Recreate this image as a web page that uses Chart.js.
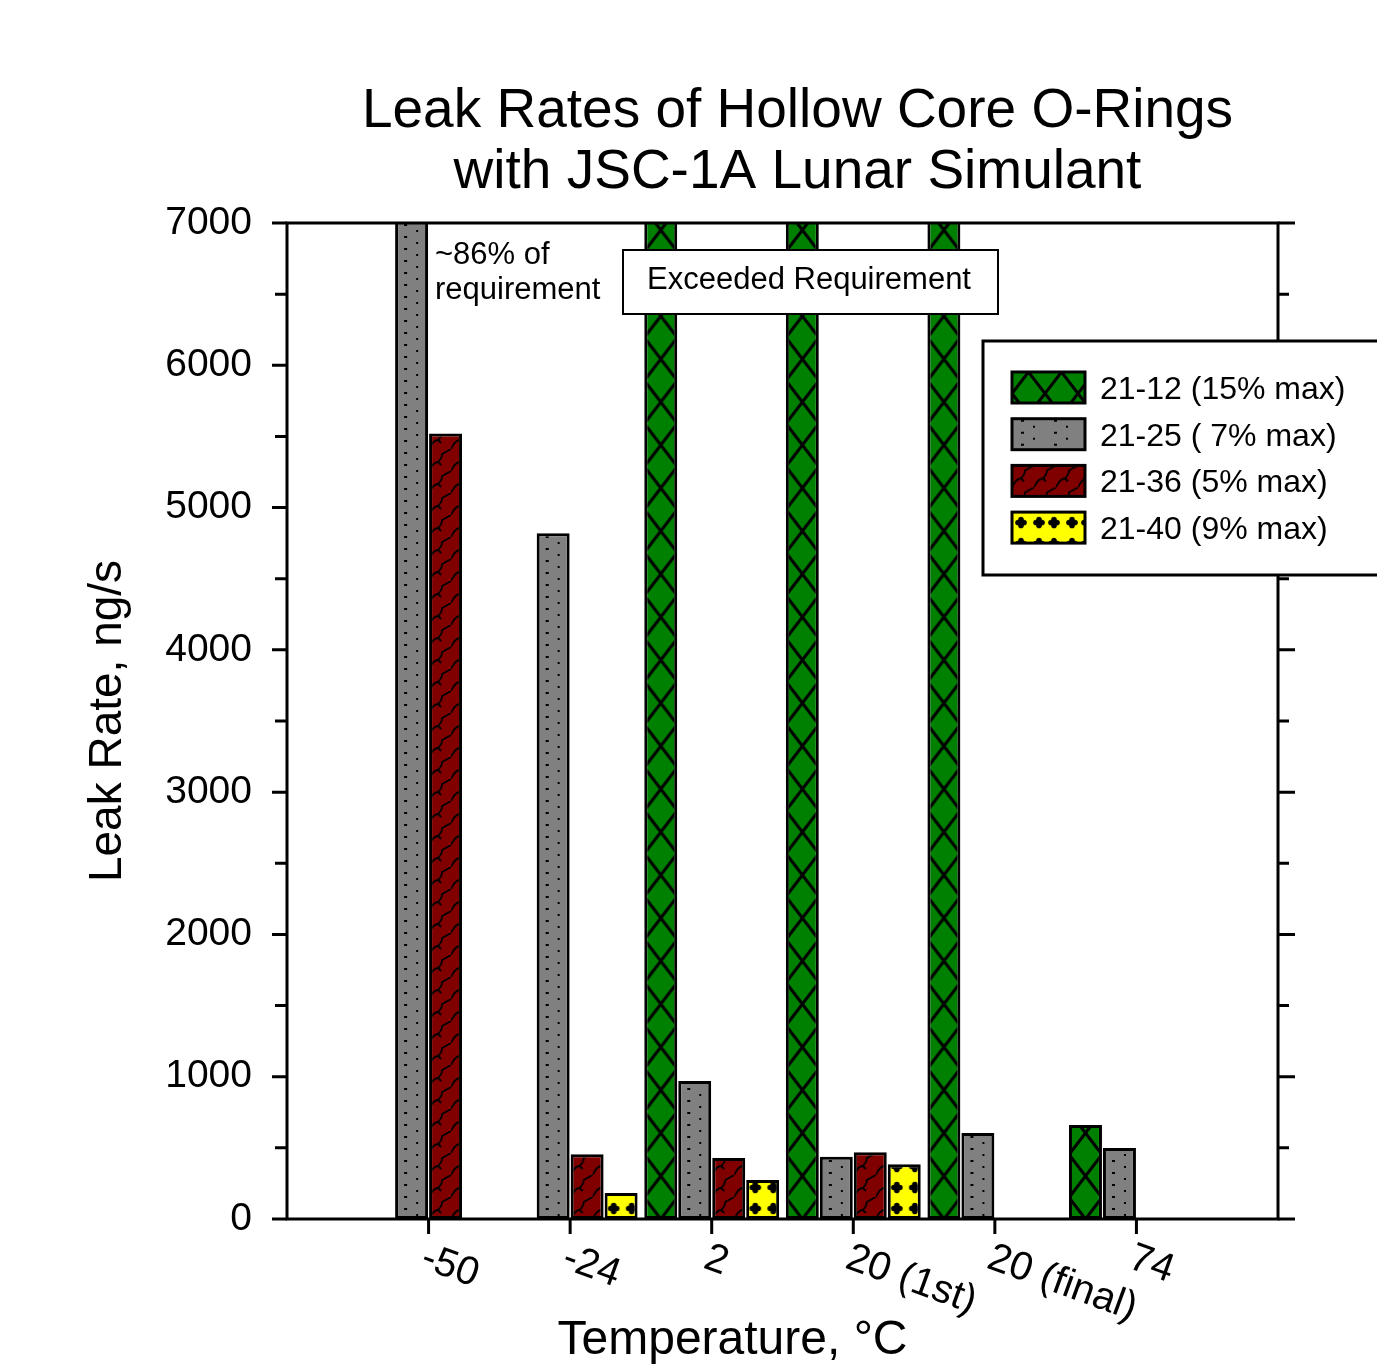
<!DOCTYPE html>
<html lang="en">
<head>
<meta charset="UTF-8">
<title>Leak Rates of Hollow Core O-Rings</title>
<script src="https://cdn.jsdelivr.net/npm/chart.js"></script>
<style>
    body { margin: 0; background: #fff; }
    #wrap { width: 1377px; height: 1368px; }
</style>
</head>
<body>
<div id="wrap"><canvas id="leakChart" width="1377" height="1368"></canvas></div>
<script>
// categories - the blank ones pad the axis out to the frame edges
const temps = ['', '-50', '-24', '2', '20 (1st)', '20 (final)', '74', ''];
const seriesNames = ['21-12 (15% max)', '21-25 ( 7% max)', '21-36 (5% max)', '21-40 (9% max)'];

// leak rate, ng/s (7500 = off the top of the axis)
const o2112 = [null, null, null, 7500, 7500, 7500, 660, null];
const o2125 = [null, 7500, 4820, 970, 438, 604, 499, null];
const o2136 = [null, 5520, 455, 428, 469, null, null, null];
const o2140 = [null, null, 183, 274, 384, null, null, null];

const yTicks = [0, 1000, 2000, 3000, 4000, 5000, 6000, 7000];
const yMinor = [500, 1500, 2500, 3500, 4500, 5500, 6500];

const FONT = '"Liberation Sans", Arial, sans-serif';
Chart.defaults.font.family = FONT;
Chart.defaults.color = '#000';

const canvas = document.getElementById('leakChart');
const ctx = canvas.getContext('2d');

// hatch tiles, one per series
function tile(w, h, bg, draw) {
    const c = document.createElement('canvas');
    c.width = w; c.height = h;
    const g = c.getContext('2d');
    g.fillStyle = bg;
    g.fillRect(0, 0, w, h);
    g.fillStyle = '#000';
    g.strokeStyle = '#000';
    draw(g, w, h);
    return c;
}
function clover(g, x, y) {
    [[-3, 0], [3, 0], [0, -3], [0, 3]].forEach(([dx, dy]) => {
        g.beginPath();
        g.arc(x + dx, y + dy, 2.8, 0, Math.PI * 2);
        g.fill();
    });
    g.fillRect(x - 2, y - 2, 4, 4);
}
const tiles = [
    tile(33, 43, '#008000', (g, w, h) => {
        g.lineWidth = 3;
        g.beginPath();
        g.moveTo(w / 2, 0); g.lineTo(w, h / 2); g.lineTo(w / 2, h); g.lineTo(0, h / 2);
        g.closePath();
        g.stroke();
    }),
    tile(33, 12, '#808080', (g) => {
        g.fillRect(9, 1, 3, 2);
        g.fillRect(21, 7, 2, 2);
    }),
    tile(22, 22, '#800000', (g, w, h) => {
        g.lineWidth = 1.8;
        g.beginPath();
        g.moveTo(0, h);
        g.quadraticCurveTo(4, 13, 9, 13);
        g.quadraticCurveTo(13, 9, 13, 5);
        g.lineTo(w, 0);
        g.moveTo(9, 13); g.lineTo(12, 16);
        g.stroke();
    }),
    tile(33, 21, '#ffff00', (g) => {
        clover(g, 9, 10.5);
        clover(g, 27, 10.5);
    })
];
const fills = [o2112, o2125, o2136, o2140].map((vals, i) => vals.map(() => ctx.createPattern(tiles[i], 'repeat')));
const legendFills = tiles.map(t => ctx.createPattern(t, 'repeat'));

const sigmaPlot = {
    id: 'sigmaPlot',
    // line each bar's hatch up with the bar's own left edge
    beforeDatasetsDraw(chart) {
        const bottom = chart.chartArea.bottom;
        chart.data.datasets.forEach((ds, i) => {
            chart.getDatasetMeta(i).data.forEach((bar, j) => {
                const x0 = isFinite(bar.x) ? bar.x - bar.width / 2 : 0;
                ds.backgroundColor[j].setTransform(new DOMMatrix().translate(x0, bottom));
            });
        });
    },
    afterDraw(chart) {
        const c = chart.ctx;
        const { left, right, top, bottom } = chart.chartArea;
        const xs = chart.scales.x, ys = chart.scales.y;
        c.save();
        c.strokeStyle = '#000';
        c.fillStyle = '#000';

        // frame + ticks
        c.lineWidth = 3;
        c.strokeRect(left, top, right - left, bottom - top);
        c.beginPath();
        yTicks.forEach(v => {
            const py = ys.getPixelForValue(v);
            c.moveTo(left - 15, py); c.lineTo(left, py);
            c.moveTo(right, py); c.lineTo(right + 17, py);
        });
        yMinor.forEach(v => {
            const py = ys.getPixelForValue(v);
            c.moveTo(left - 12, py); c.lineTo(left, py);
            c.moveTo(right, py); c.lineTo(right + 11, py);
        });
        temps.forEach((t, i) => {
            if (!t) return;
            const px = xs.getPixelForValue(i);
            c.moveTo(px, bottom); c.lineTo(px, bottom + 15);
        });
        c.stroke();

        // slanted category labels
        c.font = '40px ' + FONT;
        c.textAlign = 'left';
        c.textBaseline = 'top';
        temps.forEach((t, i) => {
            if (!t) return;
            c.save();
            c.translate(xs.getPixelForValue(i) + 1, bottom + 19);
            c.rotate(20 * Math.PI / 180);
            c.fillText(t, 0, 0);
            c.restore();
        });

        // axis title (sits left of centre in the original)
        c.textAlign = 'center';
        c.textBaseline = 'alphabetic';
        c.font = '48px ' + FONT;
        c.fillText('Temperature, °C', (left + right) / 2 - 50, bottom + 135);

        // title
        c.font = '55px ' + FONT;
        const cx = (left + right) / 2 + 15;
        c.fillText('Leak Rates of Hollow Core O-Rings', cx, top - 96);
        c.fillText('with JSC-1A Lunar Simulant', cx, top - 35);

        // notes
        c.font = '31px ' + FONT;
        c.textAlign = 'left';
        c.fillText('~86% of', left + 148, top + 41);
        c.fillText('requirement', left + 148, top + 76);

        c.lineWidth = 2;
        c.fillStyle = '#fff';
        c.fillRect(left + 336, top + 27, 375, 64);
        c.strokeRect(left + 336, top + 27, 375, 64);
        c.fillStyle = '#000';
        c.textAlign = 'center';
        c.fillText('Exceeded Requirement', left + 336 + 186, top + 66);

        // legend
        const lx = right - 295, ly = top + 118;
        c.lineWidth = 3;
        c.fillStyle = '#fff';
        c.fillRect(lx, ly, 420, 234);
        c.strokeRect(lx, ly, 420, 234);
        c.textAlign = 'left';
        c.font = '32px ' + FONT;
        seriesNames.forEach((name, i) => {
            const sy = ly + 31 + i * 46.7;
            legendFills[i].setTransform(new DOMMatrix().translate(lx + 29, sy));
            c.fillStyle = legendFills[i];
            c.fillRect(lx + 29, sy, 73, 31);
            c.lineWidth = 3;
            c.strokeRect(lx + 29, sy, 73, 31);
            c.fillStyle = '#000';
            c.fillText(name, lx + 117, sy + 27);
        });
        c.restore();
    }
};

const borderBlack = { borderColor: '#000', borderWidth: 3, borderSkipped: false };

new Chart(canvas, {
    type: 'bar',
    data: {
        labels: temps,
        datasets: [
            { label: seriesNames[0], data: o2112, backgroundColor: fills[0], ...borderBlack },
            { label: seriesNames[1], data: o2125, backgroundColor: fills[1], ...borderBlack },
            { label: seriesNames[2], data: o2136, backgroundColor: fills[2], ...borderBlack },
            { label: seriesNames[3], data: o2140, backgroundColor: fills[3], ...borderBlack }
        ]
    },
    options: {
        responsive: false,
        animation: false,
        events: [],
        layout: { padding: { top: 223, right: 99, bottom: 149, left: 0 } },
        datasets: { bar: { categoryPercentage: 0.96, barPercentage: 0.97, clip: 0 } },
        plugins: { legend: { display: false }, tooltip: { enabled: false } },
        scales: {
            x: {
                display: false,
                offset: false,
                grid: { offset: false }
            },
            y: {
                min: 0,
                max: 7000,
                afterFit: s => { s.width = 287; },
                afterBuildTicks: s => { s.ticks = yTicks.map(v => ({ value: v })); },
                grid: { display: false },
                border: { display: false },
                ticks: {
                    padding: 27,
                    font: { size: 39 },
                    color: '#000',
                    callback: v => String(v)
                },
                title: {
                    display: true,
                    text: 'Leak Rate, ng/s',
                    font: { size: 46 },
                    color: '#000',
                    padding: { top: 81, bottom: 0 }
                }
            }
        }
    },
    plugins: [sigmaPlot]
});
</script>
</body>
</html>
